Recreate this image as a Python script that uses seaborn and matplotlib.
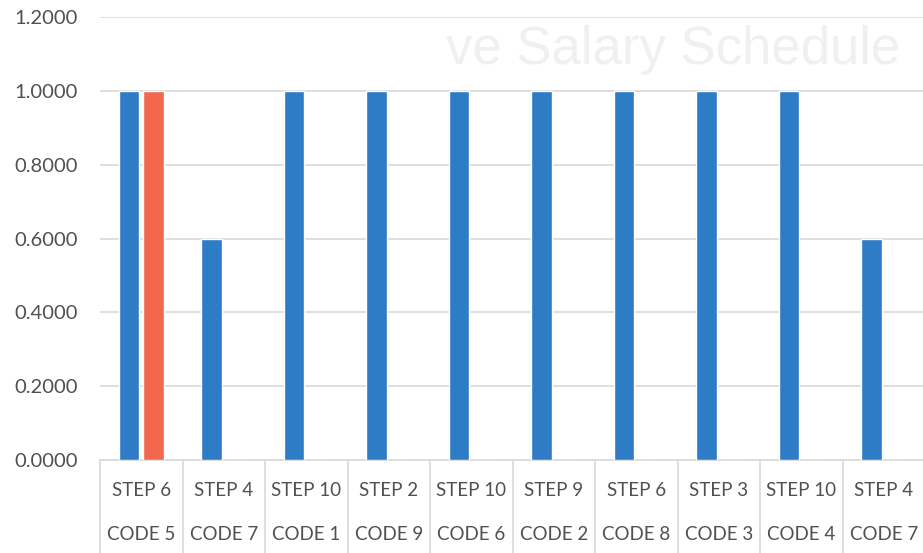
import matplotlib
matplotlib.use("Agg")
import matplotlib.pyplot as plt
import matplotlib.transforms as mtransforms
import seaborn as sns
import pandas as pd

# ---- data ----
steps = ["STEP 6", "STEP 4", "STEP 10", "STEP 2", "STEP 10",
         "STEP 9", "STEP 6", "STEP 3", "STEP 10", "STEP 4"]
codes = ["CODE 5", "CODE 7", "CODE 1", "CODE 9", "CODE 6",
         "CODE 2", "CODE 8", "CODE 3", "CODE 4", "CODE 7"]
series1 = [1.0, 0.6, 1.0, 1.0, 1.0, 1.0, 1.0, 1.0, 1.0, 0.6]
series2 = [1.0, 0.0, 0.0, 0.0, 0.0, 0.0, 0.0, 0.0, 0.0, 0.0]
yticks = [0.0, 0.2, 0.4, 0.6, 0.8, 1.0, 1.2]

BLUE = "#2E7CC6"
ORANGE = "#F2684E"
GRID = "#D9D9D9"
TXT = "#505050"

n = len(steps)
df = pd.DataFrame({
    "pos": list(range(n)) * 2,
    "value": series1 + series2,
    "series": ["Series1"] * n + ["Series2"] * n,
})

sns.set_theme(style="white")
plt.rcParams["font.family"] = ["Lato", "DejaVu Sans"]

fig = plt.figure(figsize=(9.23, 5.53), dpi=100)
ax = fig.add_axes([100 / 923, 1 - 460 / 553, 825 / 923, 443 / 553])

# faint bleed-through title from the scanned page
fig.text(446 / 923, 1 - 64 / 553, "ve Salary Schedule", fontsize=38,
         color="#F0F0F0", family=["Liberation Sans"], zorder=0)
ax.patch.set_alpha(0)

sns.barplot(data=df, x="pos", y="value", hue="series",
            palette={"Series1": BLUE, "Series2": ORANGE},
            width=0.6, gap=0.18, dodge=True, legend=False,
            saturation=1, ax=ax, zorder=3)

ax.set_ylim(0, 1.2)
ax.set_xlim(-0.5, n - 0.5)
ax.set_yticks(yticks)
ax.set_yticklabels([f"{v:.4f}" for v in yticks], fontsize=14.5, color=TXT)
ax.tick_params(axis="y", length=0, pad=16)
ax.yaxis.grid(True, color=GRID, linewidth=1.2, zorder=0)
ax.set_axisbelow(True)
for s in ["top", "right", "left"]:
    ax.spines[s].set_visible(False)
ax.spines["bottom"].set_color(GRID)
ax.spines["bottom"].set_linewidth(1.2)
ax.set_xlabel("")
ax.set_ylabel("")

# two-level category axis
ax.set_xticks(range(n))
ax.set_xticklabels([])
ax.tick_params(axis="x", length=0)
trans = mtransforms.blended_transform_factory(ax.transData, ax.transAxes)
h_px = 443.0
for i in range(n):
    ax.text(i, -30 / h_px, steps[i], transform=trans, ha="center", va="center",
            fontsize=13.5, color=TXT, clip_on=False)
    ax.text(i, -75 / h_px, codes[i], transform=trans, ha="center", va="center",
            fontsize=13.5, color=TXT, clip_on=False)
for i in range(n + 1):
    ax.plot([i - 0.5, i - 0.5], [0, -95 / h_px], transform=trans,
            color=GRID, linewidth=1.2, clip_on=False)

fig.savefig("out.png", dpi=100)
